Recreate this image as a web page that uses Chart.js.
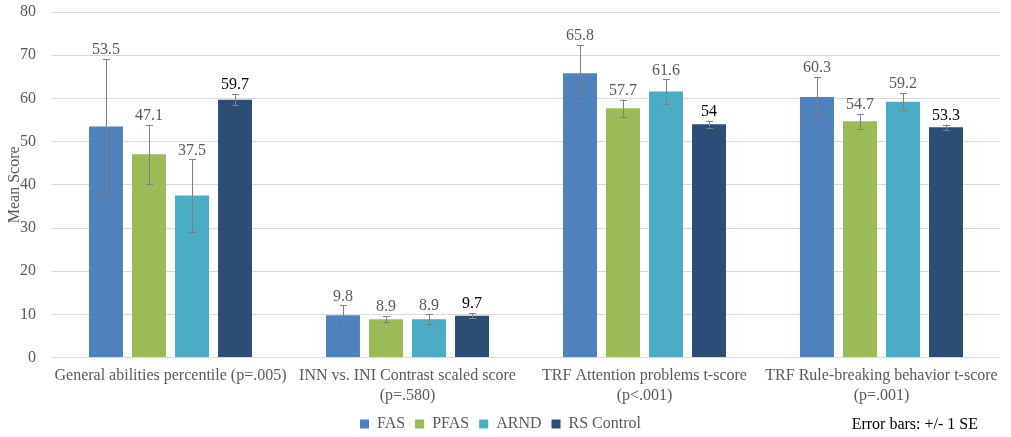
<!DOCTYPE html>
<html lang="en">
<head>
    <meta charset="UTF-8">
    <title>Mean Score by group</title>
    <script src="https://cdn.jsdelivr.net/npm/chart.js"></script>
    <style>
        html, body { margin: 0; padding: 0; background: #fff; }
    </style>
</head>
<body>
<canvas id="myChart" width="1011" height="437"></canvas>
<script>
    // categories (x axis labels, wrapped as in the original)
    const categories = [
        ['General abilities percentile (p=.005)'],
        ['INN vs. INI Contrast scaled score', '(p=.580)'],
        ['TRF Attention problems t-score', '(p<.001)'],
        ['TRF Rule-breaking behavior t-score', '(p=.001)']
    ];

    const groups = ['FAS', 'PFAS', 'ARND', 'RS Control'];

    // mean scores
    const fasValues = [53.5, 9.8, 65.8, 60.3];
    const pfasValues = [47.1, 8.9, 57.7, 54.7];
    const arndValues = [37.5, 8.9, 61.6, 59.2];
    const rsValues = [59.7, 9.7, 54, 53.3];

    // standard errors
    const fasSE = [15.6, 2.3, 6.5, 4.7];
    const pfasSE = [6.8, 0.7, 2.0, 1.7];
    const arndSE = [8.4, 1.1, 2.8, 2.0];
    const rsSE = [1.3, 0.6, 0.75, 0.65];

    const yTicks = [0, 10, 20, 30, 40, 50, 60, 70, 80];

    const colors = ['#4f81bd', '#9bbb59', '#4bacc6', '#2c4d75'];
    const labelColors = ['#595959', '#595959', '#595959', '#000000'];
    const FONT = "'Liberation Serif', 'Times New Roman', serif";

    const seList = [fasSE, pfasSE, arndSE, rsSE];

    // draws +/- 1 SE error bars and the value labels
    const errorBarPlugin = {
        id: 'errorBars',
        afterDatasetsDraw(chart) {
            const ctx = chart.ctx;
            const y = chart.scales.y;
            ctx.save();
            chart.data.datasets.forEach((ds, i) => {
                const meta = chart.getDatasetMeta(i);
                meta.data.forEach((bar, j) => {
                    const v = ds.data[j];
                    const se = seList[i][j];
                    const top = y.getPixelForValue(v + se);
                    const bot = y.getPixelForValue(v - se);
                    ctx.strokeStyle = '#7f7f7f';
                    ctx.lineWidth = 1;
                    ctx.beginPath();
                    ctx.moveTo(bar.x + 0.5, top);
                    ctx.lineTo(bar.x + 0.5, bot);
                    ctx.moveTo(bar.x - 3, Math.round(top) + 0.5);
                    ctx.lineTo(bar.x + 4, Math.round(top) + 0.5);
                    ctx.moveTo(bar.x - 3, Math.round(bot) + 0.5);
                    ctx.lineTo(bar.x + 4, Math.round(bot) + 0.5);
                    ctx.stroke();
                });
            });
            // labels on top of the error bars
            ctx.font = '16px ' + FONT;
            ctx.textAlign = 'center';
            ctx.textBaseline = 'middle';
            chart.data.datasets.forEach((ds, i) => {
                const meta = chart.getDatasetMeta(i);
                meta.data.forEach((bar, j) => {
                    const v = ds.data[j];
                    const top = y.getPixelForValue(v + seList[i][j]);
                    ctx.fillStyle = labelColors[i];
                    ctx.fillText(String(v), bar.x, top - 9);
                });
            });
            ctx.restore();
        },
        afterDraw(chart) {
            const ctx = chart.ctx;
            ctx.save();
            ctx.font = '16px ' + FONT;
            ctx.fillStyle = '#000';
            ctx.textAlign = 'right';
            ctx.textBaseline = 'middle';
            ctx.fillText('Error bars: +/- 1 SE', chart.chartArea.right - 22, 425);
            ctx.restore();
        }
    };

    const data = {
        labels: categories,
        datasets: groups.map((g, i) => ({
            label: g,
            data: [fasValues, pfasValues, arndValues, rsValues][i],
            backgroundColor: colors[i],
            borderWidth: 0,
            categoryPercentage: 0.726,
            barPercentage: 0.79
        }))
    };

    const config = {
        type: 'bar',
        data: data,
        plugins: [errorBarPlugin],
        options: {
            responsive: false,
            animation: false,
            devicePixelRatio: 1,
            layout: { padding: { top: 0, right: 11, left: 1, bottom: -5 } },
            plugins: {
                legend: {
                    position: 'bottom',
                    labels: {
                        boxWidth: 9,
                        boxHeight: 9,
                        padding: 10,
                        color: '#595959',
                        font: { family: FONT, size: 16 }
                    }
                },
                tooltip: { enabled: false }
            },
            scales: {
                x: {
                    grid: { display: false },
                    border: { display: false },
                    ticks: {
                        color: '#595959',
                        padding: 1,
                        maxRotation: 0,
                        autoSkip: false,
                        font: { family: FONT, size: 16 }
                    }
                },
                y: {
                    min: 0,
                    max: 80,
                    afterBuildTicks: s => { s.ticks = yTicks.map(v => ({ value: v })); },
                    afterFit: s => {
                        s.width = 51;
                        s.paddingTop = 12;
                        s.paddingBottom = 0;
                    },
                    grid: { color: '#d9d9d9', drawTicks: false },
                    border: { display: false },
                    ticks: {
                        color: '#595959',
                        padding: 16,
                        font: { family: FONT, size: 16 }
                    },
                    title: {
                        display: true,
                        text: 'Mean Score',
                        color: '#595959',
                        padding: { top: 4, bottom: 0 },
                        font: { family: FONT, size: 16 }
                    }
                }
            }
        }
    };

    new Chart(document.getElementById('myChart'), config);
</script>
</body>
</html>
